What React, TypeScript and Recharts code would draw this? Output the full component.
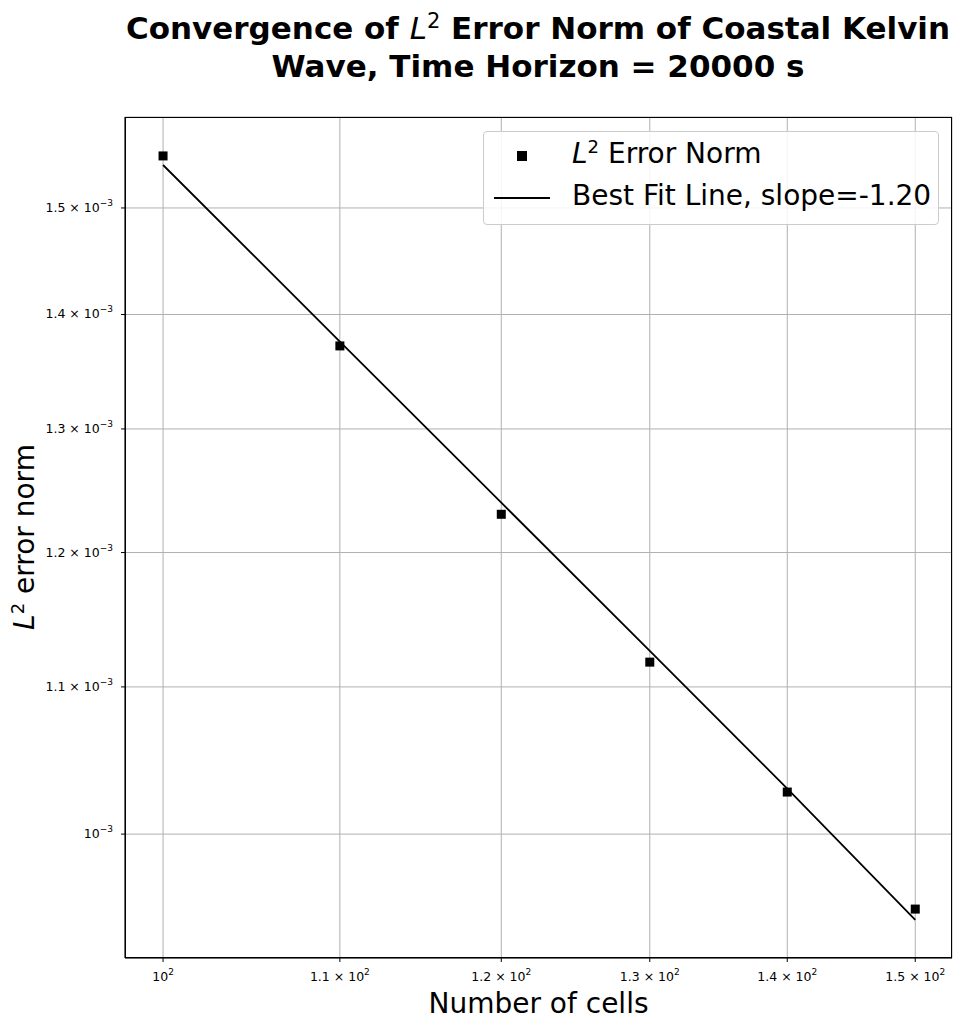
import React from "react";
import { ComposedChart, Line, Scatter, XAxis, YAxis, CartesianGrid } from "recharts";

const cells = [100, 110, 120, 130, 140, 150];
const errorNorm = [1.5514e-3, 1.3718e-3, 1.2301e-3, 1.1178e-3, 1.0276e-3, 0.9526e-3];
const fitLine = [1.5423e-3, 1.3757e-3, 1.2394e-3, 1.1259e-3, 1.0299e-3, 0.9459e-3];
const xTicks = [100, 110, 120, 130, 140, 150];
const xTickMant = ["", "1.1", "1.2", "1.3", "1.4", "1.5"];
const yTicks = [1.0e-3, 1.1e-3, 1.2e-3, 1.3e-3, 1.4e-3, 1.5e-3];
const yTickMant = ["", "1.1", "1.2", "1.3", "1.4", "1.5"];

const data = cells.map((c, i) => ({ x: c, err: errorNorm[i], fit: fitLine[i] }));
const font = "DejaVu Sans, sans-serif";

const XTick = (p: any) => {
  const i = xTicks.indexOf(p.payload.value);
  const m = xTickMant[i];
  return (
    <text x={p.x} y={p.y + 17} textAnchor="middle" fontSize={12.5} fontFamily={font} fill="#000">
      {m ? `${m} × 10` : "10"}
      <tspan dy={-6} fontSize={9}>2</tspan>
    </text>
  );
};
const YTick = (p: any) => {
  const i = yTicks.findIndex((t) => Math.abs(t - p.payload.value) < 1e-9);
  const m = yTickMant[i];
  return (
    <text x={p.x - 6} y={p.y + 4} textAnchor="end" fontSize={12.5} fontFamily={font} fill="#000">
      {m ? `${m} × 10` : "10"}
      <tspan dy={-6} fontSize={9}>−3</tspan>
    </text>
  );
};

const Square = (p: any) => <rect x={p.cx - 4.5} y={p.cy - 4.5} width={9} height={9} fill="#000" />;

export default function App() {
  return (
    <div style={{ position: "relative", width: 954, height: 1022, fontFamily: font }}>
      <div style={{ position: "absolute", left: 0, width: 1060, top: -6, textAlign: "center", fontWeight: "bold", fontSize: 31, lineHeight: "38px" }}>
        Convergence of <i style={{ fontWeight: "normal" }}>L</i><sup style={{ fontSize: 21, fontWeight: "normal" }}>2</sup> Error Norm of Coastal Kelvin<br />Wave, Time Horizon = 20000 s
      </div>
      <ComposedChart width={954} height={1022} data={data} margin={{ top: 109, right: 10, bottom: 0, left: 0 }}>
        <CartesianGrid stroke="#b0b0b0" strokeWidth={1} />
        <XAxis dataKey="x" type="number" scale="log" domain={[97.97, 153.0]} ticks={xTicks} tick={<XTick />} height={72} stroke="#000" tickSize={4} allowDataOverflow />
        <YAxis type="number" scale="log" domain={[0.9229e-3, 1.591e-3]} ticks={yTicks} tick={<YTick />} width={117} stroke="#000" tickSize={4} allowDataOverflow />
        <Line dataKey="fit" stroke="#000" strokeWidth={1.8} dot={false} isAnimationActive={false} />
        <Scatter dataKey="err" fill="#000" shape={<Square />} isAnimationActive={false} />
      </ComposedChart>
      <div style={{ position: "absolute", left: 117, top: 109, width: 827, height: 841, border: "1px solid #000", boxSizing: "border-box", pointerEvents: "none" }} />
      <div style={{ position: "absolute", left: 475, top: 123, width: 456, height: 94, border: "1px solid #ccc", borderRadius: 4, background: "rgba(255,255,255,0.85)", boxSizing: "border-box", fontSize: 28 }}>
        <div style={{ position: "absolute", left: 33, top: 19, width: 10, height: 10, background: "#000" }} />
        <div style={{ position: "absolute", left: 88, top: 4, whiteSpace: "nowrap" }}><i>L</i><sup style={{ fontSize: 18 }}>2</sup> Error Norm</div>
        <div style={{ position: "absolute", left: 10, top: 65, width: 56, height: 2, background: "#000" }} />
        <div style={{ position: "absolute", left: 88, top: 47, whiteSpace: "nowrap" }}>Best Fit Line, slope=-1.20</div>
      </div>
      <div style={{ position: "absolute", left: 117, width: 827, top: 979, textAlign: "center", fontSize: 28 }}>Number of cells</div>
      <div style={{ position: "absolute", left: 16, top: 529, transform: "translate(-50%,-50%) rotate(-90deg)", whiteSpace: "nowrap", fontSize: 28 }}>
        <i>L</i><sup style={{ fontSize: 18 }}>2</sup> error norm
      </div>
    </div>
  );
}
